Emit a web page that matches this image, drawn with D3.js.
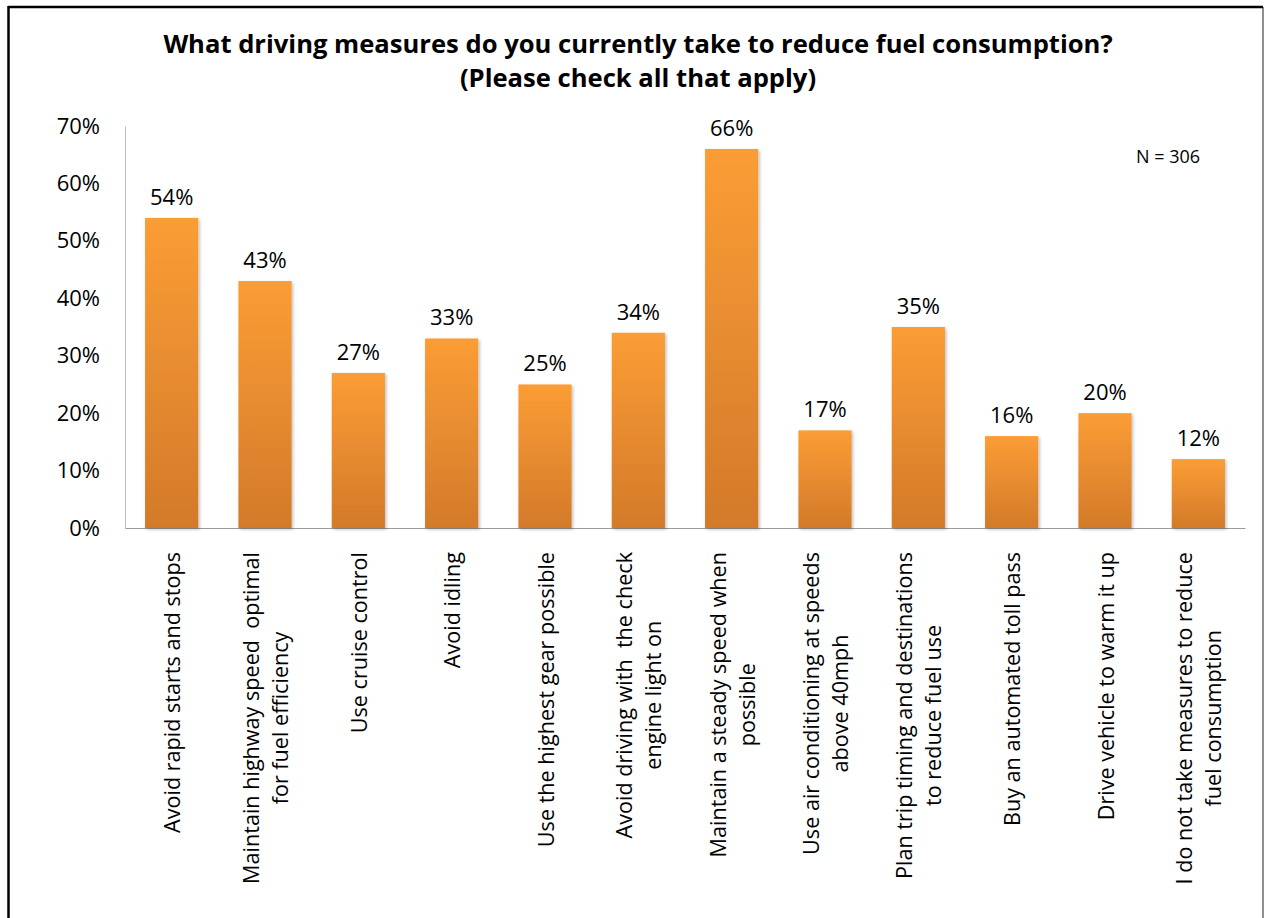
<!DOCTYPE html>
<html>
<head>
<meta charset="utf-8">
<script src="https://cdn.jsdelivr.net/npm/d3@7"></script>
<style>
  html, body { margin: 0; padding: 0; background: #fff; }
  svg text { font-family: "Open Sans", sans-serif; fill: #000; }
</style>
</head>
<body>
<svg id="chart" width="1265" height="918"></svg>
<script>
// Survey responses: share of respondents taking each measure
const categories = [
  ["Avoid rapid starts and stops"],
  ["Maintain highway speed  optimal", "for fuel efficiency"],
  ["Use cruise control"],
  ["Avoid idling"],
  ["Use the highest gear possible"],
  ["Avoid driving with  the check", "engine light on"],
  ["Maintain a steady speed when", "possible"],
  ["Use air conditioning at speeds", "above 40mph"],
  ["Plan trip timing and destinations", "to reduce fuel use"],
  ["Buy an automated toll pass"],
  ["Drive vehicle to warm it up"],
  ["I do not take measures to reduce", "fuel consumption"]
];
const values = [0.54, 0.43, 0.27, 0.33, 0.25, 0.34, 0.66, 0.17, 0.35, 0.16, 0.20, 0.12];
const yTicks = [0, 0.1, 0.2, 0.3, 0.4, 0.5, 0.6, 0.7];
const titleLines = [
  "What driving measures do you currently take to reduce fuel consumption?",
  "(Please check all that apply)"
];
const note = "N = 306";

const svg = d3.select("#chart");
const W = 1265, H = 918;
const plot = { left: 125, right: 1245, top: 126, bottom: 528 };
const fontFamily = "'Open Sans', sans-serif";

// Outer frame (open at the bottom)
svg.append("line").attr("x1", 1263).attr("y1", 7).attr("x2", 1263).attr("y2", H)
  .attr("stroke", "#444").attr("stroke-width", 1.2);
svg.append("line").attr("x1", 8.5).attr("y1", 7).attr("x2", 1263).attr("y2", 7)
  .attr("stroke", "#000").attr("stroke-width", 2.5);
svg.append("line").attr("x1", 8.5).attr("y1", 6).attr("x2", 8.5).attr("y2", H)
  .attr("stroke", "#000").attr("stroke-width", 2.5);

// Gradient and shadow for the bars
const defs = svg.append("defs");
const grad = defs.append("linearGradient").attr("id", "barGrad")
  .attr("x1", 0).attr("y1", 0).attr("x2", 0).attr("y2", 1);
grad.append("stop").attr("offset", "0%").attr("stop-color", "#FB9D35");
grad.append("stop").attr("offset", "100%").attr("stop-color", "#D37A2A");
const shadow = defs.append("filter").attr("id", "barShadow")
  .attr("x", "-10%").attr("y", "-5%").attr("width", "130%").attr("height", "115%");
shadow.append("feDropShadow").attr("dx", 1.5).attr("dy", 1.5).attr("stdDeviation", 1.5)
  .attr("flood-color", "#000").attr("flood-opacity", 0.25);

// Scales
const x = d3.scaleBand().domain(d3.range(categories.length))
  .range([plot.left, plot.right]).paddingInner(0.43).paddingOuter(0.215);
const y = d3.scaleLinear().domain([0, 0.7]).range([plot.bottom, plot.top]);

// Title
svg.append("g").selectAll("text").data(titleLines).join("text")
  .attr("x", 638).attr("y", (d, i) => 53 + i * 34)
  .attr("text-anchor", "middle")
  .style("font-size", "25.6px").style("font-weight", "bold")
  .text(d => d);

// Y axis
const yAxis = svg.append("g").attr("transform", `translate(${plot.left},0)`)
  .call(d3.axisLeft(y).tickValues(yTicks).tickFormat(d3.format(".0%")).tickSize(0).tickPadding(25));
yAxis.select(".domain").attr("stroke", "#bdbdbd");
yAxis.selectAll("text").style("font-size", "22px").attr("fill", "#000")
  .style("font-family", fontFamily);

// X axis baseline
const xAxis = svg.append("g").attr("transform", `translate(0,${plot.bottom})`)
  .call(d3.axisBottom(x).tickSize(0).tickFormat(""));
xAxis.select(".domain").attr("stroke", "#9a9a9a");

// Bars
svg.append("g").selectAll("rect").data(values).join("rect")
  .attr("x", (d, i) => x(i))
  .attr("y", d => y(d))
  .attr("width", x.bandwidth())
  .attr("height", d => plot.bottom - y(d))
  .attr("fill", "url(#barGrad)")
  .attr("filter", "url(#barShadow)");

// Value labels
svg.append("g").selectAll("text").data(values).join("text")
  .attr("x", (d, i) => x(i) + x.bandwidth() / 2)
  .attr("y", d => y(d) - 13)
  .attr("text-anchor", "middle")
  .style("font-size", "22px")
  .text(d => d3.format(".0%")(d));

// Category labels, rotated, wrapped lines centred on each other
const lineGap = 29;
const labelTop = 552;
categories.forEach((lines, i) => {
  const cx = x(i) + x.bandwidth() / 2;
  const g = svg.append("g");
  const texts = lines.map((t, j) => g.append("text")
    .style("font-size", "21.6px")
    .style("white-space", "pre")
    .attr("text-anchor", "middle")
    .attr("dominant-baseline", "central")
    .text(t));
  const maxLen = d3.max(texts, t => t.node().getComputedTextLength());
  const cy = labelTop + maxLen / 2;
  texts.forEach((t, j) => {
    const off = (j - (lines.length - 1) / 2) * lineGap;
    t.attr("transform", `translate(${cx + off},${cy}) rotate(-90)`);
  });
});

// Respondent count
svg.append("text").attr("x", 1168).attr("y", 163)
  .attr("text-anchor", "middle").style("font-size", "18px").text(note);
</script>
</body>
</html>
